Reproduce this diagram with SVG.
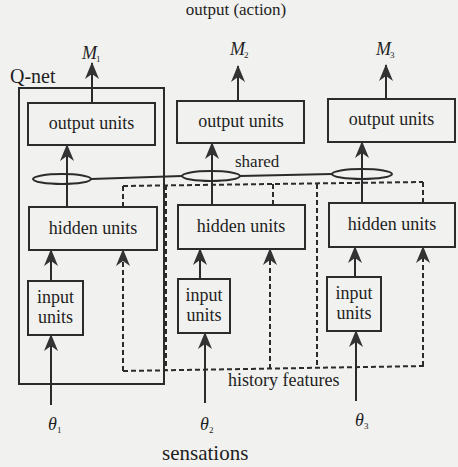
<svg xmlns="http://www.w3.org/2000/svg" width="458" height="467" viewBox="0 0 458 467">
<style>
.bg{fill:#f1f1ef}
.box{fill:none;stroke:#2b2b2b;stroke-width:2}
text{font-family:'Liberation Serif',serif;fill:#1e1e1e}
.t{font-size:18px}
.c{text-anchor:middle}
.it{font-style:italic}
.sub{font-size:9px}
.ln{fill:none;stroke:#2b2b2b;stroke-width:2}
.arr{fill:none;stroke:#2b2b2b;stroke-width:2;marker-end:url(#ah)}
.dash{fill:none;stroke:#2b2b2b;stroke-width:2;stroke-dasharray:5 3}
.darr{fill:none;stroke:#2b2b2b;stroke-width:2;stroke-dasharray:5 3;marker-end:url(#ah)}
.ell{fill:none;stroke:#2b2b2b;stroke-width:2}
</style>
<defs>
<marker id="ah" viewBox="0 0 17 14" refX="16" refY="7" markerWidth="17" markerHeight="14" orient="auto" markerUnits="userSpaceOnUse">
<path d="M17,7 L0,0 L5,7 L0,14 Z" fill="#333"/>
</marker>
</defs>
<rect class="bg" x="0" y="0" width="458" height="467"/>

<g font-family="Liberation Serif, serif">
<text class="t c" x="236" y="15" style="font-size:17px">output (action)</text>

<g id="qnet">
<rect class="box" x="19" y="88" width="145" height="296"/>
<text class="t" x="10" y="83" style="font-size:20px">Q-net</text>
</g>

<g id="output1"><rect class="box" x="28" y="103" width="127" height="42"/><text class="t c" x="91.5" y="129">output units</text></g>
<g id="output2"><rect class="box" x="177" y="101" width="127" height="42"/><text class="t c" x="241" y="127">output units</text></g>
<g id="output3"><rect class="box" x="328" y="99" width="127" height="43"/><text class="t c" x="391.5" y="125">output units</text></g>

<g id="hidden1"><rect class="box" x="29" y="207" width="128" height="43"/><text class="t c" x="93" y="234">hidden units</text></g>
<g id="hidden2"><rect class="box" x="178" y="205" width="127" height="44"/><text class="t c" x="241" y="232">hidden units</text></g>
<g id="hidden3"><rect class="box" x="329" y="203" width="126" height="44"/><text class="t c" x="392" y="230">hidden units</text></g>

<g id="input1"><rect class="box" x="28" y="281" width="55" height="54"/><text class="t c" x="55.5" y="303">input</text><text class="t c" x="55.5" y="323">units</text></g>
<g id="input2"><rect class="box" x="178" y="279" width="52" height="54"/><text class="t c" x="204" y="301">input</text><text class="t c" x="204" y="321">units</text></g>
<g id="input3"><rect class="box" x="327" y="277" width="54" height="54"/><text class="t c" x="354" y="299">input</text><text class="t c" x="354" y="319">units</text></g>

<g id="m1"><text class="t it" x="82" y="59">M</text><text class="sub" x="96" y="62">1</text></g>
<g id="m2"><text class="t it" x="230" y="55">M</text><text class="sub" x="244" y="58">2</text></g>
<g id="m3"><text class="t it" x="376" y="55">M</text><text class="sub" x="390" y="58">3</text></g>

<g id="theta1"><text class="t it" x="48" y="430">θ</text><text class="sub" x="57" y="433">1</text></g>
<g id="theta2"><text class="t it" x="200" y="430">θ</text><text class="sub" x="209" y="433">2</text></g>
<g id="theta3"><text class="t it" x="355" y="426">θ</text><text class="sub" x="364" y="429">3</text></g>

<g id="shared">
<ellipse class="ell" cx="62" cy="179" rx="29" ry="5"/>
<ellipse class="ell" cx="211" cy="176" rx="29" ry="5"/>
<ellipse class="ell" cx="362" cy="174" rx="30" ry="5"/>
<text class="t" x="235" y="167" style="font-size:17px">shared</text>
</g>

<text class="t" x="228" y="386">history features</text>
<text class="t" x="162" y="460" style="font-size:21px">sensations</text>
</g>

<g id="connectors">
<line class="arr" x1="92" y1="103" x2="92" y2="63"/>
<line class="arr" x1="238" y1="101" x2="238" y2="66"/>
<line class="arr" x1="386" y1="99" x2="386" y2="65"/>

<line class="ln" x1="91" y1="179" x2="182" y2="176"/>
<line class="ln" x1="240" y1="176" x2="332" y2="174"/>

<line class="arr" x1="67" y1="207" x2="67" y2="145"/>
<line class="arr" x1="212" y1="205" x2="212" y2="143"/>
<line class="arr" x1="362" y1="203" x2="362" y2="142"/>

<line class="arr" x1="51" y1="281" x2="51" y2="250"/>
<line class="arr" x1="200" y1="279" x2="200" y2="249"/>
<line class="arr" x1="355" y1="277" x2="355" y2="247"/>

<line class="arr" x1="51" y1="405" x2="51" y2="335"/>
<line class="arr" x1="205" y1="403" x2="205" y2="333"/>
<line class="arr" x1="356" y1="401" x2="356" y2="331"/>

<line class="dash" x1="123" y1="186" x2="423" y2="182"/>
<line class="dash" x1="123" y1="371" x2="425" y2="366"/>
<line class="dash" x1="123" y1="186" x2="123" y2="207"/>
<line class="dash" x1="273" y1="184" x2="273" y2="205"/>
<line class="dash" x1="423" y1="182" x2="423" y2="203"/>
<line class="dash" x1="166" y1="185" x2="166" y2="370"/>
<line class="dash" x1="317" y1="184" x2="317" y2="368"/>
<line class="darr" x1="123" y1="371" x2="123" y2="250"/>
<line class="darr" x1="270" y1="369" x2="270" y2="249"/>
<line class="darr" x1="423" y1="366" x2="423" y2="247"/>
</g>
</svg>
